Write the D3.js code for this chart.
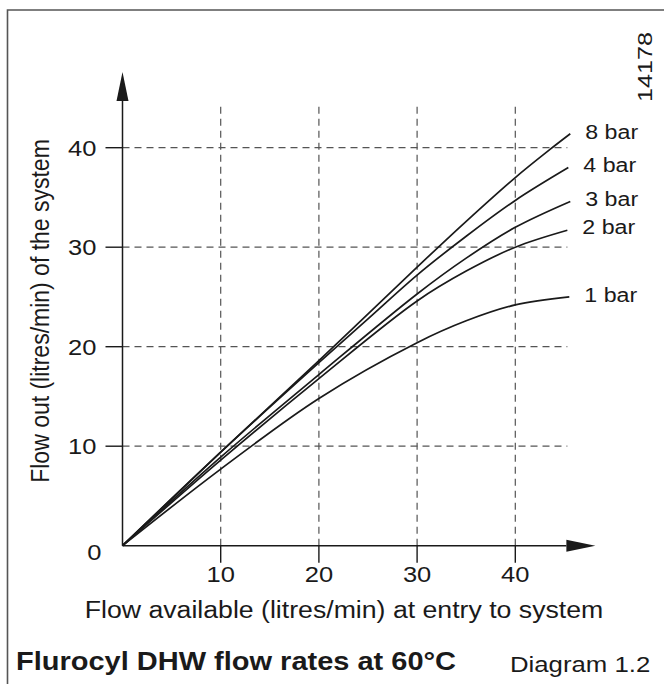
<!DOCTYPE html>
<html>
<head>
<meta charset="utf-8">
<script src="https://cdn.jsdelivr.net/npm/d3@7"></script>
<style>
  body { margin: 0; background: #fff; }
  text { font-family: "Liberation Sans", Arial, sans-serif; fill: #1a1a1a; }
</style>
</head>
<body>
<div id="chart"></div>
<script>
const width = 664;
const height = 684;
const sx = 1.16;  // the lettering in the drawing is a bit wide

// [flow available, flow out]
const bar8 = [[0, 0], [10, 9.4], [20, 18.6], [30, 28.0], [35, 32.6], [40, 37.0], [43.5, 39.8], [45.6, 41.4]];
const bar4 = [[0, 0], [10, 9.4], [20, 18.4], [25, 22.8], [30, 27.2], [35, 31.1], [40, 34.7], [45.4, 38.0]];
const bar3 = [[0, 0], [10, 8.9], [20, 17.2], [30, 25.3], [35, 28.9], [40, 32.0], [45.6, 34.6]];
const bar2 = [[0, 0], [10, 8.6], [20, 16.8], [30, 24.6], [35, 27.6], [40, 30.0], [45.3, 31.7]];
const bar1 = [[0, 0], [10, 7.7], [20, 14.8], [30, 20.4], [35, 22.6], [40, 24.2], [45.5, 25.0]];

const seriesNames = ["8 bar", "4 bar", "3 bar", "2 bar", "1 bar"];
const seriesData = [bar8, bar4, bar3, bar2, bar1];
const labelOffsets = [5, 4, 5, 4, 5];   // nudge label baseline below line end

const xTicks = [10, 20, 30, 40];
const yTicks = [10, 20, 30, 40];

const xLabel = "Flow available (litres/min) at entry to system";
const yLabel = "Flow out (litres/min) of the system";
const title = "Flurocyl DHW flow rates at 60°C";
const diagramNo = "Diagram 1.2";
const refNo = "14178";

const svg = d3.select("#chart").append("svg").attr("width", width).attr("height", height);

const x = d3.scaleLinear().domain([0, 40]).range([122.5, 515.3]);
const y = d3.scaleLinear().domain([0, 40]).range([545.7, 147.7]);

// frame (only top and left edge fall inside the picture)
svg.append("path")
    .attr("d", `M7.5,${height} V10 H${width}`)
    .attr("fill", "none")
    .attr("stroke", "#555")
    .attr("stroke-width", 1.6);

function addText(px, py, str, size, anchor, rotate, weight) {
    return svg.append("text")
        .attr("transform", `translate(${px},${py}) scale(${sx},1)` + (rotate ? " rotate(-90)" : ""))
        .attr("text-anchor", anchor)
        .attr("font-size", size)
        .attr("font-weight", weight || "normal")
        .text(str);
}

// dashed grid
svg.selectAll(".vgrid").data(xTicks).enter()
    .append("line")
    .attr("x1", d => x(d)).attr("x2", d => x(d))
    .attr("y1", y(0)).attr("y2", y(44.4))
    .attr("stroke", "#555")
    .attr("stroke-width", 1.2)
    .attr("stroke-dasharray", "7,5");

svg.selectAll(".hgrid").data(yTicks).enter()
    .append("line")
    .attr("x1", x(0)).attr("x2", x(45.3))
    .attr("y1", d => y(d)).attr("y2", d => y(d))
    .attr("stroke", "#555")
    .attr("stroke-width", 1.2)
    .attr("stroke-dasharray", "7,5");

// axes with arrow heads
const xEnd = 45.2, yEnd = 44.7, arrowLen = 29, arrowHalf = 6;
svg.append("line")
    .attr("x1", x(0)).attr("x2", x(xEnd))
    .attr("y1", y(0)).attr("y2", y(0))
    .attr("stroke", "#1a1a1a").attr("stroke-width", 1.5);
svg.append("path")
    .attr("d", `M${x(xEnd)},${y(0) - arrowHalf} L${x(xEnd) + arrowLen},${y(0)} L${x(xEnd)},${y(0) + arrowHalf} Z`)
    .attr("fill", "#1a1a1a");

svg.append("line")
    .attr("x1", x(0)).attr("x2", x(0))
    .attr("y1", y(0)).attr("y2", y(yEnd))
    .attr("stroke", "#1a1a1a").attr("stroke-width", 1.5);
svg.append("path")
    .attr("d", `M${x(0) - arrowHalf},${y(yEnd)} L${x(0)},${y(yEnd) - arrowLen} L${x(0) + arrowHalf},${y(yEnd)} Z`)
    .attr("fill", "#1a1a1a");

// tick marks
svg.selectAll(".xtick").data(xTicks).enter()
    .append("line")
    .attr("x1", d => x(d)).attr("x2", d => x(d))
    .attr("y1", y(0)).attr("y2", y(0) + 17)
    .attr("stroke", "#1a1a1a").attr("stroke-width", 1.4);
svg.selectAll(".ytick").data(yTicks).enter()
    .append("line")
    .attr("x1", x(0) - 17).attr("x2", x(0))
    .attr("y1", d => y(d)).attr("y2", d => y(d))
    .attr("stroke", "#1a1a1a").attr("stroke-width", 1.4);

// tick labels
xTicks.forEach(t => addText(x(t), y(0) + 36, String(t), 22, "middle"));
yTicks.forEach(t => addText(x(0) - 26, y(t) + 8, String(t), 22, "end"));
addText(x(0) - 21, y(0) + 14, "0", 22, "end");

// curves
const line = d3.line()
    .x(d => x(d[0]))
    .y(d => y(d[1]))
    .curve(d3.curveCatmullRom.alpha(0.5));

seriesData.forEach((s, i) => {
    svg.append("path")
        .datum(s)
        .attr("d", line)
        .attr("fill", "none")
        .attr("stroke", "#1a1a1a")
        .attr("stroke-width", 1.7);
    const last = s[s.length - 1];
    addText(x(last[0]) + 15, y(last[1]) + labelOffsets[i], seriesNames[i], 20, "start");
});

// axis titles
addText(344, 618, xLabel, 23, "middle");
addText(49, 311, yLabel, 23, "middle", true);

// footer
addText(16, 670, title, 25, "start", false, "bold");
addText(510, 672, diagramNo, 22.2, "start");

// reference number, rotated at top right
svg.append("text")
    .attr("transform", "translate(652,67) rotate(-90)")
    .attr("text-anchor", "middle")
    .attr("font-size", 20)
    .attr("textLength", 70)
    .attr("lengthAdjust", "spacingAndGlyphs")
    .text(refNo);
</script>
</body>
</html>
